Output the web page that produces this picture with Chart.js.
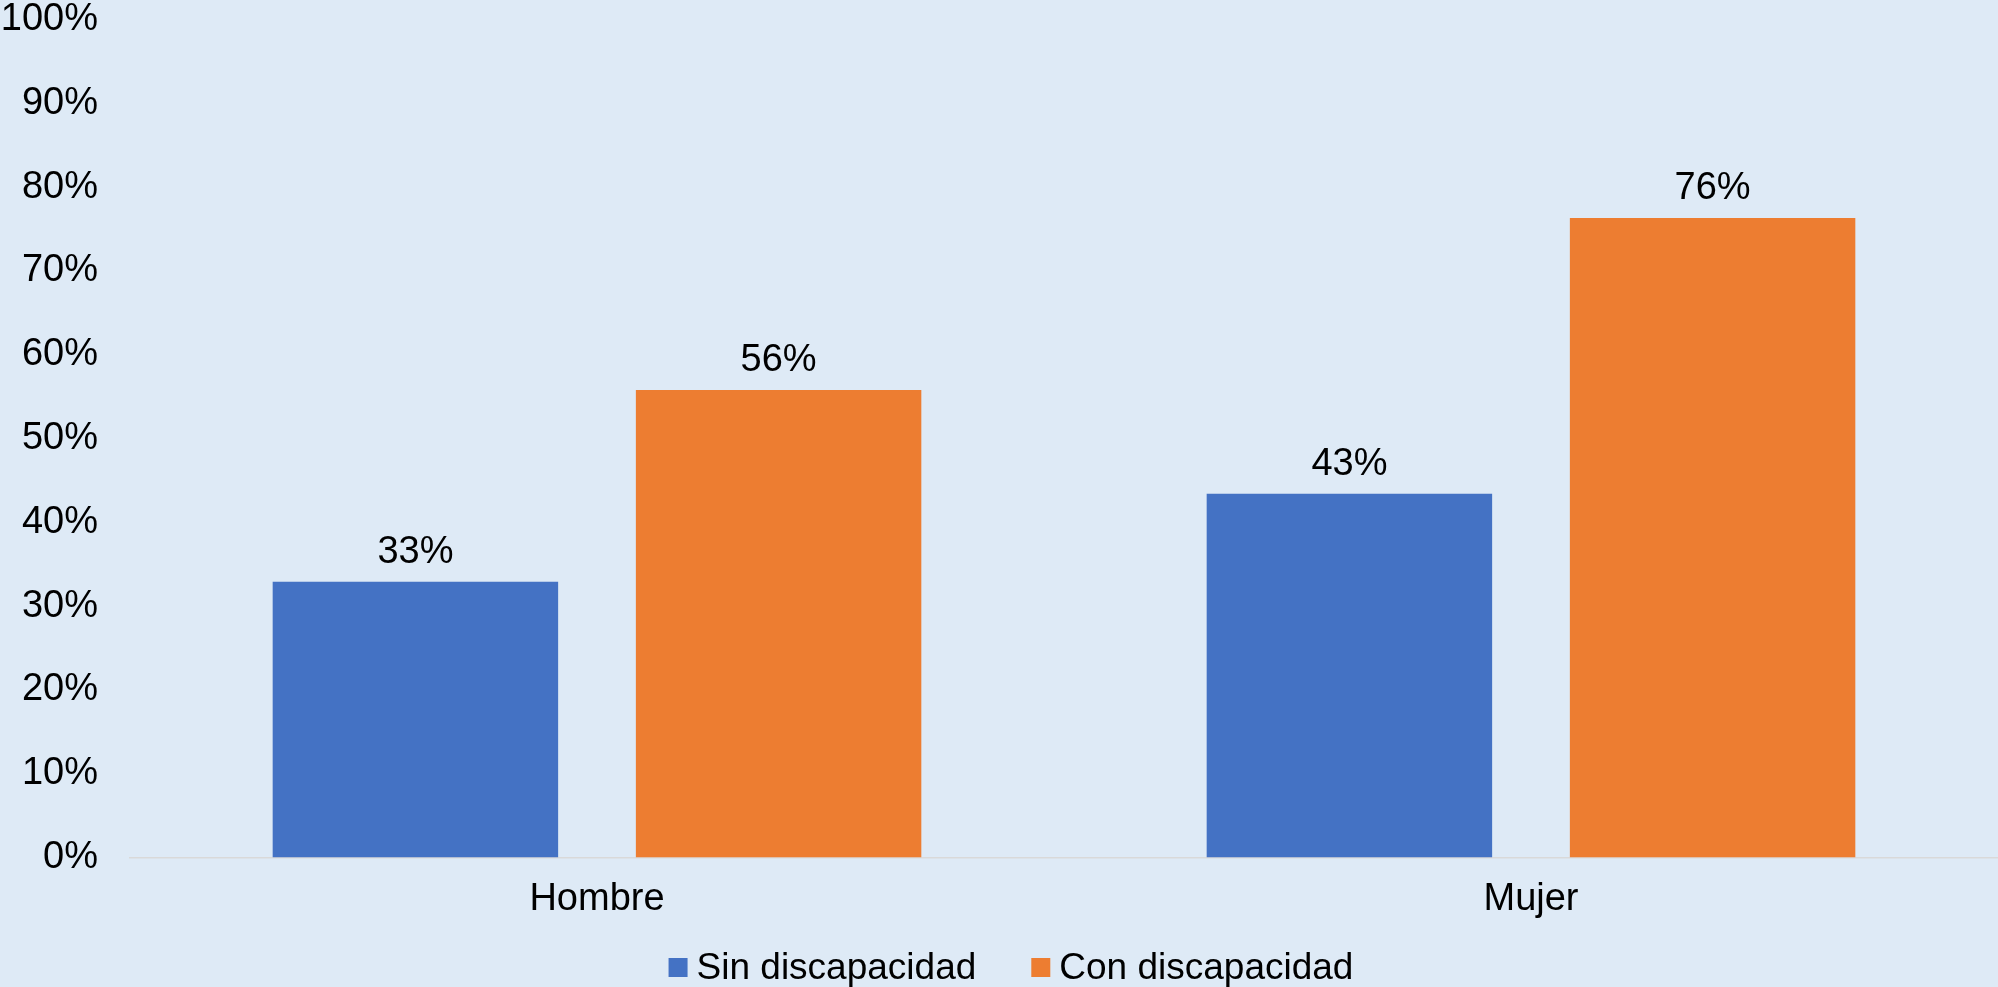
<!DOCTYPE html>
<html>
<head>
<meta charset="utf-8">
<script src="https://cdn.jsdelivr.net/npm/chart.js@4.4.1/dist/chart.umd.min.js"></script>
<style>
  html, body { margin: 0; padding: 0; background: #DEEAF6; }
  #wrap { width: 1998px; height: 987px; position: relative; }
</style>
</head>
<body>
<div id="wrap"><canvas id="c"></canvas></div>
<script>
const categories = ['Hombre', 'Mujer'];
const seriesNames = ['Sin discapacidad', 'Con discapacidad'];
const sinDiscapacidad = [32.9, 43.4];
const conDiscapacidad = [55.8, 76.3];
const yTicks = [0, 10, 20, 30, 40, 50, 60, 70, 80, 90, 100];

const FONT = "'Liberation Sans', Arial, sans-serif";
const FONT_SIZE = 38;
const LEGEND_FONT_SIZE = 37;
const blue = '#4472C4';
const orange = '#ED7D31';

const valueLabels = {
  id: 'valueLabels',
  afterDatasetsDraw(chart) {
    const ctx = chart.ctx;
    ctx.save();
    ctx.font = FONT_SIZE + 'px ' + FONT;
    ctx.fillStyle = '#000';
    ctx.textAlign = 'center';
    ctx.textBaseline = 'alphabetic';
    chart.data.datasets.forEach((ds, i) => {
      const meta = chart.getDatasetMeta(i);
      meta.data.forEach((bar, j) => {
        ctx.fillText(Math.round(ds.data[j]) + '%', bar.x, bar.y - 19);
      });
    });
    ctx.restore();
  }
};

// Legend drawn from the datasets (labels and colours), laid out like the original
const bottomLegend = {
  id: 'bottomLegend',
  afterDraw(chart) {
    const ctx = chart.ctx;
    const box = 19, textGap = 9, itemGap = 55;
    ctx.save();
    ctx.font = LEGEND_FONT_SIZE + 'px ' + FONT;
    const items = chart.data.datasets.map(ds => ({
      text: ds.label, color: ds.backgroundColor, w: ctx.measureText(ds.label).width
    }));
    const total = items.reduce((s, it) => s + box + textGap + it.w, 0) + itemGap * (items.length - 1);
    let x = (chart.width - total) / 2 + 12;
    const baseline = 979;
    items.forEach(it => {
      ctx.fillStyle = it.color;
      ctx.fillRect(x, 958, box, box);
      x += box + textGap;
      ctx.fillStyle = '#000';
      ctx.textAlign = 'left';
      ctx.textBaseline = 'alphabetic';
      ctx.fillText(it.text, x, baseline);
      x += it.w + itemGap;
    });
    ctx.restore();
  }
};

new Chart(document.getElementById('c'), {
  type: 'bar',
  data: {
    labels: categories,
    datasets: [
      { label: seriesNames[0], data: sinDiscapacidad, backgroundColor: blue, borderWidth: 0,
        categoryPercentage: 0.7777, barPercentage: 0.786 },
      { label: seriesNames[1], data: conDiscapacidad, backgroundColor: orange, borderWidth: 0,
        categoryPercentage: 0.7777, barPercentage: 0.786 }
    ]
  },
  options: {
    responsive: true,
    maintainAspectRatio: false,
    animation: false,
    layout: { padding: { left: 3, right: 0, top: 19.5, bottom: 57.5 } },
    plugins: {
      legend: { display: false },
      tooltip: { enabled: false }
    },
    scales: {
      x: {
        grid: { display: false, drawTicks: false },
        border: { display: true, color: '#D9D9D9', width: 1.5 },
        ticks: { color: '#000', font: { family: FONT, size: FONT_SIZE, lineHeight: 1.2 }, padding: 19.7 },
        afterFit(scale) { scale.height = 72; scale.paddingLeft = 0; scale.paddingRight = 0; }
      },
      y: {
        min: 0, max: 100,
        grid: { display: false, drawTicks: false },
        border: { display: false },
        afterBuildTicks(scale) { scale.ticks = yTicks.map(v => ({ value: v })); },
        afterFit(scale) { scale.width = 127; scale.paddingTop = 0; scale.paddingBottom = 0; },
        ticks: {
          color: '#000', padding: 32,
          font: { family: FONT, size: FONT_SIZE, lineHeight: 1 },
          callback: (v) => v + '%'
        }
      }
    }
  },
  plugins: [valueLabels, bottomLegend]
});
</script>
</body>
</html>
